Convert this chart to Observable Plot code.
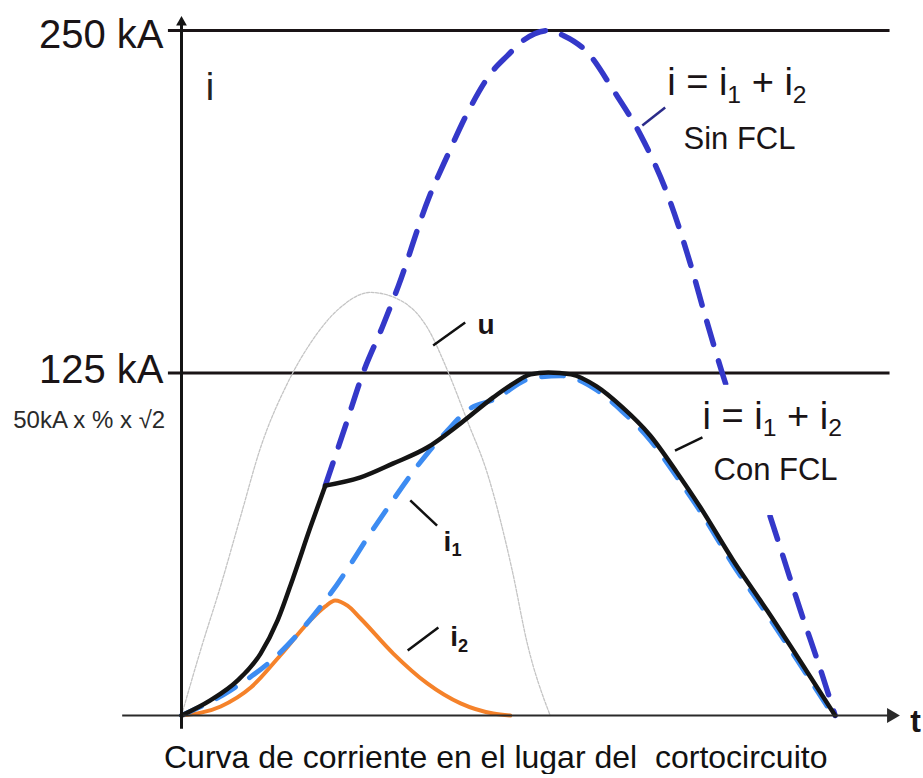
<!DOCTYPE html>
<html><head><meta charset="utf-8">
<script src="https://cdn.jsdelivr.net/npm/d3@7"></script>
<script src="https://cdn.jsdelivr.net/npm/@observablehq/plot@0.6"></script>
<style>
body{margin:0;background:#fff;font-family:"Liberation Sans",Arial,sans-serif;}
#cap{width:923px;box-sizing:border-box;padding-left:164px;font-size:32px;line-height:34px;white-space:pre;color:#111;}
</style></head><body>
<div id="chart"></div>
<div id="cap">Curva de corriente en el lugar del  cortocircuito</div>
<script>
// t: time (10 = end of the half wave), values: current in kA
// i = i1 + i2 with FCL (black); the FCL acts at index 7 (kink)
const conT = [0, 0.44, 0.86, 1.21, 1.47, 1.71, 1.97, 2.20, 2.74, 3.24, 3.76, 4.27, 4.77, 5.08, 5.34, 5.61, 5.96, 6.35, 6.73, 7.17, 7.58, 7.94, 8.44, 8.96, 9.47, 10];
const conI = [0, 5.5, 12.8, 22.6, 34.7, 50.4, 68.6, 83.9, 86.9, 92.0, 97.8, 106.6, 116.1, 121.2, 124.5, 125.2, 124.5, 120.1, 112.8, 102.2, 88.7, 75.9, 56.6, 38.3, 19.7, 0];
const kinkIndex = 7;
// i = i1 + i2 without FCL (dashed blue, from where it leaves the FCL curve)
const sinT = [2.20, 2.51, 2.78, 3.07, 3.32, 3.78, 4.07, 4.37, 4.73, 4.99, 5.23, 5.61, 5.84, 6.21, 6.61, 7.02, 7.43, 7.78, 8.01, 8.27, 8.70, 9.11, 9.47, 9.77, 10];
const sinI = [83.9, 105.8, 125.2, 141.6, 156.9, 188.7, 204.4, 219.7, 234.3, 240.9, 246.4, 250.0, 248.2, 242.0, 228.1, 212.0, 190.5, 165.3, 146.0, 125.2, 94.9, 65.0, 38.3, 17.2, 0];
// i1 (light blue dashed)
const i1T = [0, 0.75, 1.51, 2.28, 3.00, 3.76, 4.07, 4.37, 4.80, 5.34, 5.80, 6.35, 6.73, 7.17, 7.58, 7.94, 8.44, 8.96, 9.47, 9.97];
const i1I = [0, 9.2, 23.0, 44.5, 70.4, 95.6, 104.0, 111.3, 115.5, 123.0, 124.0, 118.8, 111.3, 100.5, 87.0, 74.4, 55.0, 36.8, 18.4, 0];
// i2 (orange)
const i2T = [0, 0.60, 1.06, 1.51, 1.97, 2.20, 2.35, 2.54, 2.74, 3.24, 3.76, 4.27, 4.77, 5.03];
const i2I = [0, 3.3, 10.2, 21.9, 34.7, 39.8, 42.0, 40.1, 35.4, 22.6, 11.7, 4.4, 0.7, 0];
// u (voltage, thin gray)
const uT = [0, 0.29, 0.60, 0.90, 1.21, 1.62, 1.97, 2.43, 2.89, 3.35, 3.76, 4.07, 4.37, 4.68, 5.06, 5.29, 5.64];
const uI = [0, 23.7, 47.4, 72.3, 97.8, 121.2, 135.8, 148.9, 154.4, 151.5, 141.6, 125.9, 107.7, 88.3, 52.9, 26.3, 0];

// reference levels
const tickValues = [250, 125];
const tickLabels = ["250 kA", "125 kA"];
const refLineT = [-0.2, 10.84];
const noteText = ["50kA x % x \u221A2"];
const noteT = [-0.25];
const noteI = [105.1];

// axes extents
const axisT = [-0.9, 10.86];
const axisI = [-5, 253];

// labels
const labText = ["i = i_1 + i_2", "Sin FCL", "i = i_1 + i_2", "Con FCL"];
const labT = [7.43, 7.68, 7.97, 8.14];
const labI = [226.3, 206.9, 104.7, 85.8];
const labSize = [38, 31, 38, 31];
const boldText = ["u", "i_1", "i_2"];
const boldT = [4.53, 4.01, 4.11];
const boldI = [139.4, 60.2, 25.2];
// white background box behind the "Con FCL" label
const boxT = [8.17, 10.25];
const boxI = [73, 120.5];

// leader lines
const leadX1 = [7.05, 3.85, 7.55, 3.50, 3.46];
const leadY1 = [215.3, 135.0, 96.7, 78.5, 23.7];
const leadX2 = [7.40, 4.34, 7.97, 3.91, 3.93];
const leadY2 = [221.9, 143.4, 101.5, 69.3, 32.1];
const leadColor = ["#2b2b8a", "#111", "#111", "#111", "#111"];

const zip = (T, I) => T.map((t, k) => ({t, i: I[k]}));
const conAll = zip(conT, conI);
const con = [
  ...conAll.slice(0, kinkIndex + 1).map(d => ({...d, seg: "before"})),
  ...conAll.slice(kinkIndex).map(d => ({...d, seg: "after"}))
];
const sin = zip(sinT, sinI), i1 = zip(i1T, i1I), i2 = zip(i2T, i2I), u = zip(uT, uI);
const ticks = tickValues.map((v, k) => ({v, label: tickLabels[k]}));
const labels = labText.map((s, k) => ({s, t: labT[k], i: labI[k], size: labSize[k]}));
const bolds = boldText.map((s, k) => ({s, t: boldT[k], i: boldI[k]}));
const leads = leadX1.map((x1, k) => ({x1, y1: leadY1[k], x2: leadX2[k], y2: leadY2[k], c: leadColor[k]}));

const svg = Plot.plot({
  width: 923, height: 740,
  marginLeft: 181, marginRight: 23, marginTop: 30, marginBottom: 25,
  x: {domain: [0, 11], axis: null},
  y: {domain: [0, 250], axis: null},
  style: {fontFamily: "'Liberation Sans', Arial, sans-serif", background: "#fff", overflow: "visible"},
  marks: [
    Plot.ruleY(ticks, {y: "v", x1: refLineT[0], x2: refLineT[1], stroke: "#1a1416", strokeWidth: 3}),
    Plot.line(u, {x: "t", y: "i", stroke: "#c4c4c4", strokeWidth: 1.3, strokeDasharray: "3,1.5", curve: "monotone-x"}),
    Plot.line(i2, {x: "t", y: "i", stroke: "#f5822a", strokeWidth: 4, curve: "monotone-x"}),
    Plot.line(i1, {x: "t", y: "i", stroke: "#3d8cf2", strokeWidth: 5, strokeDasharray: "22,17", curve: "monotone-x"}),
    Plot.line(sin, {x: "t", y: "i", stroke: "#3438c9", strokeWidth: 5.5, strokeDasharray: "24,17", curve: "monotone-x"}),
    Plot.rect([{x1: boxT[0], x2: boxT[1], y1: boxI[0], y2: boxI[1]}], {x1: "x1", x2: "x2", y1: "y1", y2: "y2", fill: "#fff"}),
    Plot.line(con, {x: "t", y: "i", z: "seg", stroke: "#141414", strokeWidth: 4.5, strokeLinejoin: "round", curve: "monotone-x"}),
    Plot.ruleY([0], {x1: axisT[0], x2: axisT[1], stroke: "#2a2a2a", strokeWidth: 2}),
    Plot.dot([{t: axisT[1], i: 0}], {x: "t", y: "i", symbol: "triangle", rotate: 90, r: 5.5, fill: "#2a2a2a", stroke: "none"}),
    Plot.ruleX([0], {y1: axisI[0], y2: axisI[1], stroke: "#141414", strokeWidth: 3}),
    Plot.dot([{t: 0, i: axisI[1]}], {x: "t", y: "i", symbol: "triangle", r: 4, fill: "#141414", stroke: "none"}),
    Plot.link(leads, {x1: "x1", y1: "y1", x2: "x2", y2: "y2", stroke: "c", strokeWidth: 2.5}),
    Plot.text([ticks[0]], {x: refLineT[0], y: "v", text: "label", textAnchor: "end", lineAnchor: "bottom", dx: -5, dy: 17, fontSize: 40, fill: "#1a1416"}),
    Plot.text([ticks[1]], {x: refLineT[0], y: "v", text: "label", textAnchor: "end", lineAnchor: "bottom", dx: -5, dy: 10, fontSize: 40, fill: "#1a1416"}),
    Plot.text(noteText, {x: noteT[0], y: noteI[0], text: d => d, textAnchor: "end", lineAnchor: "bottom", fontSize: 24, fill: "#2a2a2a"}),
    Plot.text(labels, {x: "t", y: "i", text: "s", fontSize: "size", textAnchor: "start", lineAnchor: "bottom", fill: "#1a1416"}),
    Plot.text(bolds, {x: "t", y: "i", text: "s", fontSize: 28, fontWeight: "bold", textAnchor: "start", lineAnchor: "bottom", fill: "#1a1416"}),
    Plot.text(["i"], {x: 0.37, y: 224.5, text: d => d, fontSize: 38, textAnchor: "start", lineAnchor: "bottom", fill: "#222"}),
    Plot.text(["t"], {x: 11.15, y: -6.2, text: d => d, fontSize: 32, fontWeight: "bold", textAnchor: "start", lineAnchor: "bottom", fill: "#1a1416"})
  ]
});
document.getElementById("chart").appendChild(svg);

// subscripts: "i_1" -> i with subscript 1
d3.select(svg).selectAll("text").each(function() {
  const s = this.textContent;
  if (!s.includes("_")) return;
  const fs = parseFloat(getComputedStyle(this).fontSize) || 30;
  const shift = fs * 0.2;
  const parts = s.split(/(_\d)/).filter(p => p);
  this.textContent = "";
  let lowered = false;
  for (const p of parts) {
    const ts = d3.select(this).append("tspan");
    if (p[0] === "_") {
      ts.text(p.slice(1)).attr("font-size", fs * 0.65).attr("dy", shift);
      lowered = true;
    } else {
      ts.text(p);
      if (lowered) { ts.attr("dy", -shift); lowered = false; }
    }
  }
});
</script>
</body></html>
